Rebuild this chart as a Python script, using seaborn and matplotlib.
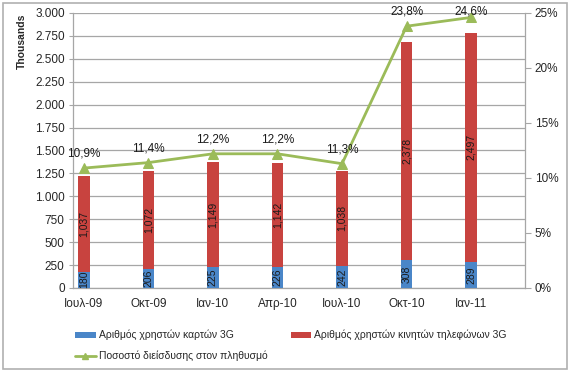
# 3G users in Greece: stacked bars (thousands) + penetration line on a secondary axis

import seaborn as sns
import matplotlib.pyplot as plt
import pandas as pd
from matplotlib.patches import Patch, Rectangle
from matplotlib.lines import Line2D
from matplotlib.ticker import FuncFormatter, FixedLocator

# -----------------------------
# Data
# -----------------------------
periods = ["Ιουλ-09", "Οκτ-09", "Ιαν-10", "Απρ-10", "Ιουλ-10", "Οκτ-10", "Ιαν-11"]
card_users = [180, 206, 225, 226, 242, 308, 289]            # thousands
phone_users = [1037, 1072, 1149, 1142, 1038, 2378, 2497]    # thousands
penetration = [10.9, 11.4, 12.2, 12.2, 11.3, 23.8, 24.6]    # percent

label_cards = "Αριθμός χρηστών καρτών 3G"
label_phones = "Αριθμός χρηστών κινητών τηλεφώνων 3G"
label_pen = "Ποσοστό διείσδυσης στον πληθυσμό"

df = pd.DataFrame({
    "period": periods,
    "cards": card_users,
    "phones": phone_users,
    "pen": penetration,
})
df["total"] = df["cards"] + df["phones"]
df["pos"] = range(len(df))

BLUE = "#4A86C8"
RED = "#C8433F"
GREEN = "#9BBB59"
GRID = "#A6A6A6"

# -----------------------------
# Visualization
# -----------------------------
sns.set_style("white")
plt.rcParams["font.family"] = ["Liberation Sans", "DejaVu Sans"]

fig = plt.figure(figsize=(5.7, 3.73), dpi=100)
ax = fig.add_axes([73 / 570, 1 - 288 / 373, (525 - 73) / 570, (288 - 13) / 373])

# stacked bars: full height in red, then the card segment in blue on top of it
sns.barplot(data=df, x="period", y="total", order=periods, color=RED,
            saturation=1, width=0.18, ax=ax, zorder=2)
sns.barplot(data=df, x="period", y="cards", order=periods, color=BLUE,
            saturation=1, width=0.18, ax=ax, zorder=3)
for p in ax.patches:
    p.set_edgecolor("none")

# labels inside the segments
for i, row in df.iterrows():
    ax.text(i, row["cards"] / 2, f"{row['cards']:,}", rotation=90, ha="center",
            va="center", fontsize=7.5, color="#1a1a1a", zorder=5)
    ax.text(i, row["cards"] + row["phones"] / 2, f"{row['phones']:,}", rotation=90,
            ha="center", va="center", fontsize=7.5, color="#1a1a1a", zorder=5)

ax.set_ylim(0, 3000)
ax.yaxis.set_major_locator(FixedLocator(range(0, 3001, 250)))
ax.yaxis.set_major_formatter(FuncFormatter(lambda v, _: f"{v:,.0f}".replace(",", ".")))
ax.grid(axis="y", color=GRID, linewidth=0.9, zorder=0)
ax.set_axisbelow(True)
ax.set_xlabel("")
ax.set_ylabel("")

# secondary axis: penetration line
ax2 = ax.twinx()
sns.lineplot(data=df, x="pos", y="pen", ax=ax2, color=GREEN, linewidth=2,
             marker="^", markersize=7, markeredgecolor=GREEN, zorder=6)
for i, row in df.iterrows():
    # label sits ~1.3 points above the marker, but is kept inside the plot top
    ax2.text(i, min(row["pen"] + 1.3, 25.1), f"{row['pen']:.1f}%".replace(".", ","),
             ha="center", va="center", fontsize=8.5, color="#1a1a1a", zorder=7)
ax2.set_ylim(0, 25)
ax2.yaxis.set_major_locator(FixedLocator(range(0, 26, 5)))
ax2.yaxis.set_major_formatter(FuncFormatter(lambda v, _: f"{v:.0f}%"))
ax2.set_ylabel("")
ax2.set_xlabel("")

# x axis laid out like a monthly date axis (19 months, bars mid-month)
ax.set_xlim(-1 / 6, len(periods) - 1 + 1 / 6)
ax.set_xticks(range(len(periods)))
ax.set_xticklabels(periods)
ax.set_xticks([i - 1 / 6 for i in range(len(periods) + 1)], minor=True)
ax.tick_params(axis="x", which="major", length=0, pad=7, labelsize=8.5)
ax.tick_params(axis="x", which="minor", length=4, color=GRID, direction="out")
ax.tick_params(axis="y", length=3, color=GRID, labelsize=8.5, pad=3)
ax2.tick_params(axis="y", length=4, color=GRID, labelsize=8.5, pad=3)

for a in (ax, ax2):
    for s in a.spines.values():
        s.set_visible(False)
ax.spines["left"].set_visible(True)
ax.spines["bottom"].set_visible(True)
ax2.spines["right"].set_visible(True)
for s in (ax.spines["left"], ax.spines["bottom"], ax2.spines["right"]):
    s.set_color(GRID)
    s.set_linewidth(0.9)

fig.text(22 / 570, 1 - 41 / 373, "Thousands", rotation=90, ha="center", va="center",
         fontsize=7.5, weight="bold")

# legend: row 1 blue + red, row 2 green
handles = [
    Patch(facecolor=BLUE, edgecolor="none", label=label_cards),
    Line2D([0], [0], color=GREEN, linewidth=2, marker="^", markersize=5, label=label_pen),
    Patch(facecolor=RED, edgecolor="none", label=label_phones),
]
fig.legend(handles=handles, ncol=2, loc="upper left", frameon=False,
           bbox_to_anchor=(75 / 570, 1 - 330 / 373), fontsize=7.5,
           handlelength=2.0, handleheight=0.5, handletextpad=0.3,
           columnspacing=2.2, labelspacing=0.95, borderpad=0, borderaxespad=0)

# outer chart frame
fig.patches.append(Rectangle((3 / 570, 4 / 373), 564 / 570, 366 / 373,
                             transform=fig.transFigure, fill=False,
                             edgecolor="#B0B0B0", linewidth=1.2))

fig.savefig("out.png", dpi=100)
plt.close(fig)
